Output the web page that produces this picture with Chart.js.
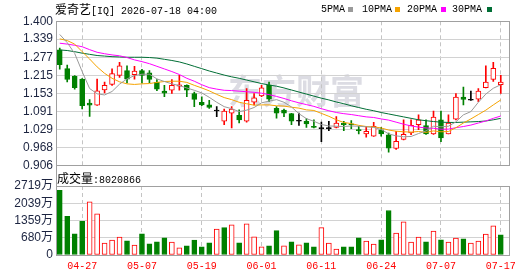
<!DOCTYPE html>
<html><head><meta charset="utf-8">
<script src="https://cdn.jsdelivr.net/npm/chart.js@4.4.1/dist/chart.umd.min.js"></script>
<style>
html,body{margin:0;padding:0;background:#fff;}
#wrap{position:relative;width:530px;height:276px;overflow:hidden;background:#fff;}
canvas{position:absolute;left:0;top:0;}
.t{position:absolute;white-space:nowrap;color:#000;line-height:13px;height:13px;}
.cjk{font-family:"Noto Sans CJK SC",sans-serif;font-size:12px;}
.mono{font-family:"Liberation Mono","DejaVu Sans Mono",monospace;font-size:10px;}
.sw{position:absolute;top:7px;width:5px;height:5px;}
</style></head>
<body>
<div id="wrap">
<canvas id="c1" width="530" height="276"></canvas>
<canvas id="c2" width="530" height="276"></canvas>
<div class="t" style="left:55px;top:2px;"><span class="cjk">爱奇艺</span><span class="mono">[IQ] 2026-07-18 04:00</span></div>
<div class="t mono" style="left:321px;top:3px;">5PMA</div><div class="sw" style="left:348px;background:#9a9a9a"></div>
<div class="t mono" style="left:362px;top:3px;">10PMA</div><div class="sw" style="left:395px;background:#f5a300"></div>
<div class="t mono" style="left:407px;top:3px;">20PMA</div><div class="sw" style="left:441px;background:#ff00ff"></div>
<div class="t mono" style="left:452px;top:3px;">30PMA</div><div class="sw" style="left:487px;background:#006e35"></div>
<div class="t" style="left:57px;top:171px;"><span class="cjk">成交量</span><span class="mono">:8020866</span></div>
</div>
<script>
const dates = ['04-22','04-23','04-24','04-27','04-28','04-29','04-30','05-01','05-04','05-05',
  '05-06','05-07','05-08','05-11','05-12','05-13','05-14','05-15','05-18','05-19',
  '05-20','05-21','05-22','05-26','05-27','05-28','05-29','06-01','06-02','06-03',
  '06-04','06-05','06-08','06-09','06-10','06-11','06-12','06-15','06-16','06-17',
  '06-18','06-22','06-23','06-24','06-25','06-26','06-29','06-30','07-01','07-02',
  '07-06','07-07','07-08','07-09','07-10','07-13','07-14','07-15','07-16','07-17'];
const xTickIdx = [3,11,19,27,35,43,51,59];

const openP = [1.302,1.238,1.212,1.202,1.120,1.113,1.165,1.184,1.215,1.231,
  1.217,1.231,1.224,1.191,1.161,1.164,1.178,1.181,1.153,1.123,
  1.114,1.093,1.058,1.086,1.078,1.058,1.123,1.145,1.183,1.102,
  1.096,1.084,1.058,1.058,1.039,1.033,1.033,1.037,1.052,1.047,
  1.027,1.015,1.007,1.029,1.012,0.965,0.996,1.018,1.046,1.043,
  1.015,1.063,1.015,1.065,1.141,1.130,1.134,1.173,1.201,1.183];
const highP = [1.308,1.250,1.214,1.204,1.132,1.202,1.192,1.237,1.260,1.248,
  1.246,1.236,1.231,1.201,1.181,1.201,1.215,1.183,1.158,1.142,
  1.130,1.108,1.100,1.108,1.097,1.170,1.153,1.181,1.192,1.108,
  1.100,1.085,1.086,1.067,1.063,1.055,1.058,1.074,1.058,1.060,
  1.041,1.041,1.054,1.037,1.018,1.024,1.063,1.063,1.080,1.063,
  1.093,1.093,1.080,1.153,1.175,1.161,1.170,1.248,1.260,1.215];
const lowP = [1.236,1.193,1.168,1.100,1.075,1.112,1.155,1.181,1.208,1.189,
  1.202,1.188,1.190,1.163,1.142,1.153,1.164,1.142,1.108,1.111,
  1.102,1.074,1.046,1.035,1.052,1.055,1.114,1.142,1.125,1.069,
  1.074,1.046,1.044,1.037,1.035,0.988,1.026,1.035,1.026,1.033,
  1.015,1.004,1.006,1.007,0.952,0.962,0.994,1.012,1.029,1.013,
  1.013,0.988,1.015,1.063,1.114,1.129,1.125,1.172,1.194,1.153];
const closeP = [1.252,1.201,1.173,1.111,1.113,1.162,1.181,1.221,1.248,1.202,
  1.230,1.215,1.201,1.168,1.154,1.181,1.183,1.164,1.133,1.114,
  1.105,1.093,1.093,1.100,1.063,1.130,1.138,1.172,1.134,1.086,
  1.086,1.058,1.058,1.049,1.037,1.033,1.033,1.052,1.046,1.046,
  1.026,1.024,1.041,1.015,0.966,0.989,1.013,1.044,1.063,1.015,
  1.072,1.001,1.052,1.141,1.133,1.130,1.161,1.192,1.239,1.192];

const ma5 = [1.355,1.327,1.290,1.228,1.170,1.152,1.148,1.160,1.185,1.203,
  1.214,1.219,1.219,1.203,1.194,1.186,1.180,1.172,1.164,1.155,
  1.140,1.123,1.108,1.101,1.091,1.096,1.105,1.121,1.127,1.132,
  1.123,1.107,1.084,1.067,1.058,1.047,1.042,1.041,1.040,1.042,
  1.041,1.039,1.037,1.030,1.015,1.008,1.005,1.006,1.016,1.025,
  1.041,1.039,1.041,1.056,1.080,1.091,1.123,1.151,1.171,1.183];
const ma10 = [1.340,1.334,1.322,1.296,1.271,1.244,1.222,1.205,1.193,1.186,
  1.184,1.186,1.187,1.191,1.194,1.195,1.195,1.191,1.181,1.172,
  1.162,1.150,1.139,1.132,1.123,1.118,1.113,1.114,1.114,1.111,
  1.110,1.106,1.103,1.097,1.095,1.085,1.075,1.063,1.054,1.050,
  1.044,1.040,1.039,1.035,1.028,1.024,1.022,1.021,1.023,1.020,
  1.025,1.022,1.023,1.036,1.052,1.066,1.081,1.096,1.114,1.131];
const ma20 = [1.325,1.322,1.318,1.313,1.303,1.294,1.289,1.285,1.282,1.276,
  1.268,1.262,1.255,1.246,1.237,1.228,1.218,1.205,1.195,1.183,
  1.173,1.168,1.164,1.163,1.161,1.159,1.157,1.154,1.149,1.143,
  1.136,1.128,1.121,1.115,1.109,1.101,1.094,1.088,1.084,1.081,
  1.077,1.073,1.071,1.066,1.062,1.055,1.048,1.042,1.038,1.035,
  1.034,1.031,1.031,1.036,1.040,1.045,1.052,1.059,1.068,1.076];
const ma30 = [1.302,1.300,1.296,1.291,1.287,1.283,1.281,1.279,1.278,1.277,
  1.277,1.277,1.276,1.274,1.270,1.266,1.261,1.254,1.246,1.238,
  1.230,1.223,1.216,1.210,1.205,1.199,1.193,1.187,1.182,1.178,
  1.172,1.165,1.158,1.151,1.144,1.137,1.131,1.124,1.118,1.111,
  1.105,1.099,1.094,1.088,1.083,1.078,1.073,1.068,1.063,1.060,
  1.057,1.055,1.054,1.054,1.055,1.056,1.057,1.059,1.063,1.068];

// volume in 万 (10k shares); direction: 1 = up (red), -1 = down (green)
const volume = [2548,1527,839,1328,2099,1622,469,588,708,560,
  390,839,441,521,680,509,282,362,588,322,
  481,1026,1077,1185,481,1224,719,322,362,958,
  362,521,401,481,322,1077,469,231,322,322,
  680,549,429,600,1753,867,1304,509,708,521,
  946,600,509,668,640,469,549,827,1145,799];
const volDir = [-1,-1,-1,-1,1,1,1,1,1,-1,
  1,-1,-1,-1,-1,1,1,-1,-1,-1,
  -1,1,-1,1,-1,1,1,1,-1,-1,
  1,-1,1,-1,-1,1,1,1,-1,-1,
  -1,1,1,-1,-1,1,1,1,1,-1,
  1,-1,1,1,-1,1,1,1,1,-1];

const priceTicks = [1.400,1.339,1.277,1.215,1.153,1.091,1.029,0.968,0.906];
const priceTickLabels = ['1.400','1.339','1.277','1.215','1.153','1.091','1.029','0.968','0.906'];
const volTicks = [2719,2039,1359,680,0];
const volTickLabels = ['2719万','2039万','1359万','680万','0'];

const RED = '#ff0000', GREEN = '#008000', BLACK = '#000000';
const candleColor = openP.map((o,i)=> closeP[i] > o ? RED : (closeP[i] < o ? GREEN : BLACK));
const bodyFill = candleColor.map(c => c === RED ? '#ffffff' : c);
const pts = arr => arr.map((v,i)=>({x:i, y:v}));
const bodyData = openP.map((o,i)=>({x:i, y:[Math.min(o,closeP[i]), Math.max(o,closeP[i])]}));
const wickData = lowP.map((l,i)=>({x:i, y:[l, highP[i]]}));
const volData = volume.map((v,i)=>({x:i, y:v}));
const volColor = volDir.map(d => d > 0 ? RED : GREEN);
const volFill = volDir.map(d => d > 0 ? '#ffffff' : GREEN);

const FRAME = '#a0a0a0';
const tickFont = {family:'"Liberation Sans", Arial, "Noto Sans CJK SC", sans-serif', size:12};
const xScaleBase = (showLabels) => ({
  type:'linear', min:-0.5, max:60.1, offset:false,
  afterBuildTicks: s => { s.ticks = xTickIdx.map(v => ({value:v})); },
  ticks:{display:showLabels, autoSkip:false, maxRotation:0, minRotation:0, padding:5, color:RED,
    font:{family:'"Liberation Mono","DejaVu Sans Mono",monospace', size:10},
    callback: v => dates[v]},
  grid:{color:'#c4c4c4', drawTicks:false, offset:false, lineWidth:1},
  border:{display:false, dash:[4,3]},
  afterFit: s => { s.height = showLabels ? 21 : 0; }
});

const watermark = {
  id:'watermark',
  beforeDraw(chart){
    const ctx = chart.ctx;
    ctx.save();
    ctx.font = 'bold 34px "Noto Sans CJK SC", sans-serif';
    ctx.fillStyle = '#dcdce3';
    ctx.textBaseline = 'middle';
    ctx.fillText('东方财富', 228, 91);
    ctx.restore();
  }
};
const frameMain = {
  id:'frameMain',
  afterDraw(chart){
    const ctx = chart.ctx, a = chart.chartArea;
    ctx.save();
    ctx.strokeStyle = FRAME; ctx.lineWidth = 1;
    const l = Math.round(a.left)+0.5, t = Math.floor(a.top)+0.5, r = Math.round(a.right)+0.5, b = Math.floor(a.bottom)+0.5;
    ctx.strokeRect(l, t, r-l, b-t);
    ctx.restore();
  }
};
const frameVol = {
  id:'frameVol',
  afterDraw(chart){
    const ctx = chart.ctx, a = chart.chartArea;
    ctx.save();
    ctx.strokeStyle = FRAME; ctx.lineWidth = 1;
    const l = Math.round(a.left)+0.5, t = Math.round(a.top)+0.5, r = Math.round(a.right)+0.5, b = Math.round(a.bottom)+0.5;
    ctx.strokeRect(l, t, r-l, b-t);
    ctx.beginPath(); ctx.moveTo(l, 165); ctx.lineTo(l, t); ctx.stroke();
    ctx.restore();
  }
};

const yTicksCommon = {font:tickFont, color:'#1c2440', padding:3, autoSkip:false};

new Chart(document.getElementById('c1'), {
  type:'bar',
  data:{datasets:[
    {type:'line', data:pts(ma5), borderColor:'#9a9a9a', borderWidth:1, pointRadius:0, tension:0, order:1},
    {type:'line', data:pts(ma10), borderColor:'#f5a300', borderWidth:1, pointRadius:0, tension:0, order:1},
    {type:'line', data:pts(ma20), borderColor:'#ff00ff', borderWidth:1, pointRadius:0, tension:0, order:1},
    {type:'line', data:pts(ma30), borderColor:'#006e35', borderWidth:1, pointRadius:0, tension:0, order:1},
    {data:bodyData, backgroundColor:bodyFill, borderColor:candleColor, borderWidth:1, borderSkipped:false,
      barThickness:5, minBarLength:1, grouped:false, order:2},
    {data:wickData, backgroundColor:candleColor, borderWidth:0, barThickness:1, grouped:false, order:3}
  ]},
  options:{
    responsive:false, animation:false, devicePixelRatio:1,
    layout:{padding:{left:0, right:21, top:21.3, bottom:110.3}},
    plugins:{legend:{display:false}, tooltip:{enabled:false}},
    scales:{
      x: xScaleBase(false),
      y:{type:'linear', min:0.906, max:1.400,
        afterBuildTicks: s => { s.ticks = priceTicks.map(v => ({value:v})); },
        ticks:Object.assign({callback:(v,i)=>priceTickLabels[i]}, yTicksCommon),
        grid:{color:'#d2d2d2', drawTicks:false},
        border:{display:false},
        afterFit: s => { s.width = 56; }}
    }
  },
  plugins:[watermark, frameMain]
});

new Chart(document.getElementById('c2'), {
  type:'bar',
  data:{datasets:[
    {data:volData, backgroundColor:volFill, borderColor:volColor, borderWidth:1, borderSkipped:false,
      barThickness:5, grouped:false}
  ]},
  options:{
    responsive:false, animation:false, devicePixelRatio:1,
    layout:{padding:{left:0, right:21, top:186, bottom:0}},
    plugins:{legend:{display:false}, tooltip:{enabled:false}},
    scales:{
      x: xScaleBase(true),
      y:{type:'linear', min:0, max:2719,
        afterBuildTicks: s => { s.ticks = volTicks.map(v => ({value:v})); },
        ticks:Object.assign({callback:(v,i)=>volTickLabels[i]}, yTicksCommon),
        grid:{color:'#d2d2d2', drawTicks:false},
        border:{display:false},
        afterFit: s => { s.width = 56; }}
    }
  },
  plugins:[frameVol]
});
</script>
</body></html>
